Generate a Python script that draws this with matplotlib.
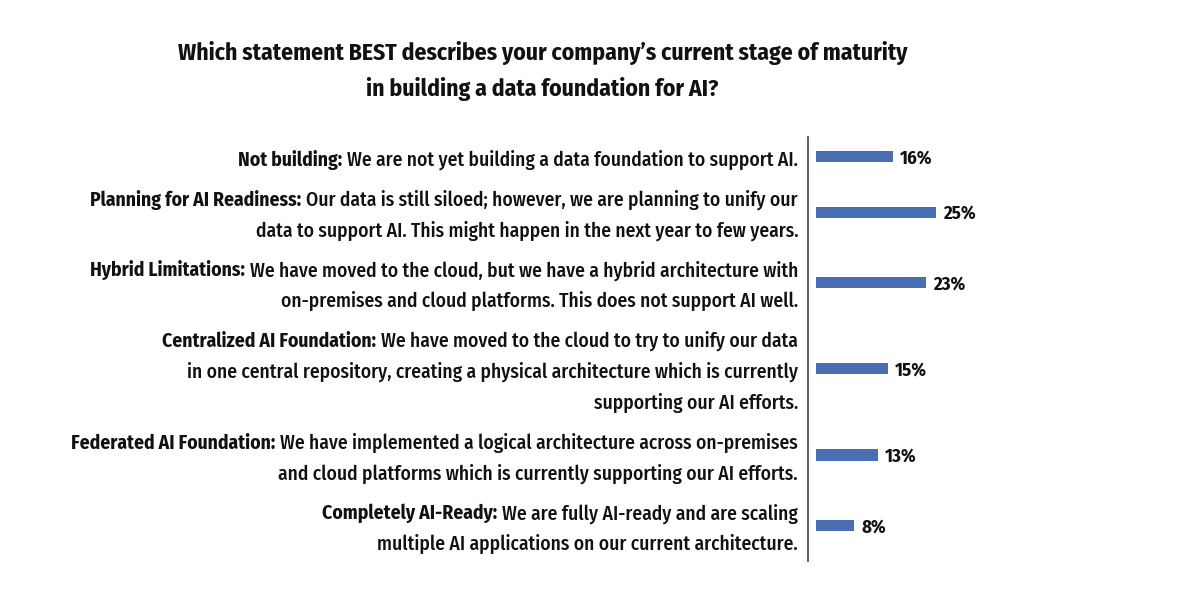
import matplotlib
matplotlib.use("Agg")
import numpy as np
import matplotlib.pyplot as plt
import matplotlib.transforms as mtransforms

plt.rcParams['font.family'] = ['Fira Sans Condensed', 'DejaVu Sans']

title_lines = ["Which statement BEST describes your company\u2019s current stage of maturity",
               "in building a data foundation for AI?"]

# bold lead-in of each answer
heads = ["Not building:",
         "Planning for AI Readiness:",
         "Hybrid Limitations:",
         "Centralized AI Foundation:",
         "Federated AI Foundation:",
         "Completely AI-Ready:"]

# rest of the answer, one entry per printed line
bodies = [["We are not yet building a data foundation to support AI."],
          ["Our data is still siloed; however, we are planning to unify our",
           "data to support AI. This might happen in the next year to few years."],
          ["We have moved to the cloud, but we have a hybrid architecture with",
           "on-premises and cloud platforms. This does not support AI well."],
          ["We have moved to the cloud to try to unify our data",
           "in one central repository, creating a physical architecture which is currently",
           "supporting our AI efforts."],
          ["We have implemented a logical architecture across on-premises",
           "and cloud platforms which is currently supporting our AI efforts."],
          ["We are fully AI-ready and are scaling",
           "multiple AI applications on our current architecture."]]

values = [16, 25, 23, 15, 13, 8]

bar_color = "#4a6eb2"
pad = 0.28   # gap between answers, in text lines

# each answer takes as much room as its text lines
nlines = np.array([len(b) for b in bodies])
heights = nlines + pad
tops = np.concatenate([[0], np.cumsum(heights)[:-1]])
centers = tops + heights / 2

fig = plt.figure(figsize=(12, 5.91), dpi=100)
W, H = 1200, 591
ax_l, ax_r, ax_t, ax_b = 808, 1190, 137, 561
ax = fig.add_axes([ax_l / W, 1 - ax_b / H, (ax_r - ax_l) / W, (ax_b - ax_t) / H])

ax.barh(centers, values, height=0.355, color=bar_color)
ax.set_ylim(heights.sum(), 0)
ax.set_xlim(-1.7, 78.2)

for s in ["top", "right", "bottom"]:
    ax.spines[s].set_visible(False)
ax.spines["left"].set_color("#555555")
ax.spines["left"].set_linewidth(1.3)
ax.set_xticks([])
ax.set_yticks([])

for v, c in zip(values, centers):
    ax.annotate(f"{v}%", xy=(v, c), xytext=(7, -7), textcoords="offset pixels",
                ha="left", va="baseline", fontsize=13.5, fontweight="bold", color="#111111")

renderer = fig.canvas.get_renderer()
trans = mtransforms.blended_transform_factory(ax.transAxes, ax.transData)
label_size = 14.05
for head, body, c, n in zip(heads, bodies, centers, nlines):
    for k, line in enumerate(body):
        y = c + (k - (n - 1) / 2)
        t = ax.annotate(line, xy=(0, y), xycoords=trans, xytext=(-10, -9),
                        textcoords="offset pixels", ha="right", va="baseline",
                        fontsize=label_size, fontweight="medium", color="#111111")
        if k == 0:
            w = t.get_window_extent(renderer).width
            ax.annotate(head, xy=(0, y), xycoords=trans, xytext=(-10 - w - 5, -9),
                        textcoords="offset pixels", ha="right", va="baseline",
                        fontsize=label_size, fontweight="bold", color="#111111")

fig.text(542.5 / W, 1 - 60 / H, title_lines[0], ha="center", va="baseline",
         fontsize=17, fontweight="bold", color="#111111")
fig.text(542.5 / W, 1 - 96 / H, title_lines[1], ha="center", va="baseline",
         fontsize=17, fontweight="bold", color="#111111")

fig.savefig("out.png", dpi=100, facecolor="white")
